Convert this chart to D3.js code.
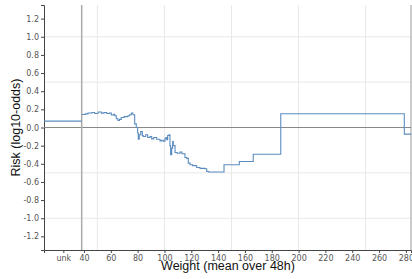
<!DOCTYPE html>
<html>
<head>
<meta charset="utf-8">
<script src="https://cdn.jsdelivr.net/npm/d3@7"></script>
<style>
  body { margin: 0; background: #fff; }
  .tick text { font-family: "DejaVu Sans", sans-serif; font-size: 8px; fill: #555; }
  .axis-title { font-family: "Liberation Sans", Arial, sans-serif; font-size: 12.5px; fill: #111; }
</style>
</head>
<body>
<svg id="chart"></svg>
<script>
// weight values (mean over 48h) where the risk step changes
const weights = [38.3, 41, 43, 46, 48, 50.5, 53, 55, 57, 59, 60.4, 62, 62.9, 64.1, 65.4, 66.5, 67.8, 70,
  72.8, 74, 75.3, 76.5, 77.8, 79, 80, 80.5, 81.2, 82.3, 83.5, 84.2, 86, 87.5, 89.2, 90.5, 92, 94.2,
  96.7, 98, 99.2, 100.4, 101.2, 101.7, 102.4, 103.4, 104.1, 104.6, 105.4, 106.1, 106.6, 107.9, 109.5,
  111.6, 113, 115.3, 116.6, 117.8, 119.1, 121, 124, 126.5, 130.2, 131.5, 133, 144.4, 155.8, 166.2,
  186.7, 278.8, 284];
// risk in log10-odds, one per weight
const risks = [0.143, 0.15, 0.16, 0.166, 0.155, 0.17, 0.158, 0.165, 0.155, 0.16, 0.137, 0.145, 0.13,
  0.096, 0.077, 0.09, 0.11, 0.12, 0.13, 0.14, 0.16, 0.14, 0.04, 0.0, -0.06, -0.128, -0.08, -0.045,
  -0.09, -0.1, -0.08, -0.11, -0.1, -0.125, -0.11, -0.13, -0.147, -0.14, -0.15, -0.12, -0.11, -0.135,
  -0.088, -0.08, -0.2, -0.3, -0.227, -0.155, -0.2, -0.276, -0.283, -0.27, -0.29, -0.33, -0.34, -0.393,
  -0.41, -0.42, -0.44, -0.45, -0.455, -0.485, -0.49, -0.41, -0.375, -0.294, 0.151, -0.073, -0.073];
// risk for unknown weight
const unkRisk = 0.07;

const xTickValues = [40, 60, 80, 100, 120, 140, 160, 180, 200, 220, 240, 260, 280];
const yTickValues = [-1.2, -1.0, -0.8, -0.6, -0.4, -0.2, 0.0, 0.2, 0.4, 0.6, 0.8, 1.0, 1.2];
const xGrid = [50, 100, 150, 200, 250];
const yGrid = [-1.0, -0.5, 0.5, 1.0];

class StepPlot {
  constructor(_config, _data) {
    this.config = {
      parentElement: _config.parentElement,
      containerWidth: _config.containerWidth || 412,
      containerHeight: _config.containerHeight || 279,
      margin: _config.margin || {top: 5, right: 1, bottom: 29, left: 44}
    };
    this.data = _data;
    this.initVis();
  }

  initVis() {
    let vis = this;
    vis.width = vis.config.containerWidth - vis.config.margin.left - vis.config.margin.right;
    vis.height = vis.config.containerHeight - vis.config.margin.top - vis.config.margin.bottom;

    // unk sits left of the separator on the same linear scale
    vis.unkPos = 24.6;
    vis.sepPos = 38.3;
    vis.xScale = d3.scaleLinear().domain([10.2, 283.8]).range([0, vis.width]);
    vis.yScale = d3.scaleLinear().domain([-1.35, 1.35]).range([vis.height, 0]);

    vis.svg = d3.select(vis.config.parentElement)
      .attr('width', vis.config.containerWidth)
      .attr('height', vis.config.containerHeight);

    vis.chart = vis.svg.append('g')
      .attr('transform', `translate(${vis.config.margin.left},${vis.config.margin.top})`);

    // gridlines
    vis.chart.selectAll('.vgrid').data(xGrid).join('line')
      .attr('x1', d => vis.xScale(d)).attr('x2', d => vis.xScale(d))
      .attr('y1', 0).attr('y2', vis.height)
      .attr('stroke', '#e8e8e8').attr('stroke-width', 1);
    vis.chart.selectAll('.hgrid').data(yGrid).join('line')
      .attr('x1', 0).attr('x2', vis.width)
      .attr('y1', d => vis.yScale(d)).attr('y2', d => vis.yScale(d))
      .attr('stroke', '#e8e8e8').attr('stroke-width', 1);

    // right frame edge
    vis.chart.append('line')
      .attr('x1', vis.width).attr('x2', vis.width)
      .attr('y1', 0).attr('y2', vis.height)
      .attr('stroke', '#999');

    vis.xAxis = d3.axisBottom(vis.xScale)
      .tickValues([vis.unkPos].concat(xTickValues))
      .tickFormat(d => d === vis.unkPos ? 'unk' : d)
      .tickSize(3)
      .tickPadding(2);
    vis.yAxis = d3.axisLeft(vis.yScale)
      .tickValues(yTickValues)
      .tickFormat(d => d.toFixed(1))
      .tickSize(3)
      .tickPadding(2);

    vis.xAxisG = vis.chart.append('g')
      .attr('class', 'axis x-axis')
      .attr('transform', `translate(0,${vis.height})`);
    vis.yAxisG = vis.chart.append('g')
      .attr('class', 'axis y-axis');

    // axis titles
    vis.chart.append('text')
      .attr('class', 'axis-title')
      .attr('x', 184)
      .attr('y', vis.height + 20)
      .style('text-anchor', 'middle')
      .text('Weight (mean over 48h)');
    vis.chart.append('text')
      .attr('class', 'axis-title')
      .attr('transform', `translate(-24,${vis.height / 2}) rotate(-90)`)
      .style('text-anchor', 'middle')
      .text('Risk (log10-odds)');

    vis.renderVis();
  }

  renderVis() {
    let vis = this;

    // zero line and unk separator
    vis.chart.append('line')
      .attr('x1', 0).attr('x2', vis.width)
      .attr('y1', vis.yScale(0)).attr('y2', vis.yScale(0))
      .attr('stroke', '#888').attr('stroke-width', 1);
    vis.chart.append('line')
      .attr('x1', vis.xScale(vis.sepPos)).attr('x2', vis.xScale(vis.sepPos))
      .attr('y1', 0).attr('y2', vis.height)
      .attr('stroke', '#aaa').attr('stroke-width', 1.5);

    const line = d3.line()
      .x(d => vis.xScale(d.w))
      .y(d => vis.yScale(d.r))
      .curve(d3.curveStepAfter);

    vis.chart.append('path')
      .datum(vis.data)
      .attr('d', line)
      .attr('fill', 'none')
      .attr('stroke', '#5b8cc0')
      .attr('stroke-width', 1.1);

    vis.chart.append('path')
      .datum([{w: 10.2, r: unkRisk}, {w: vis.sepPos, r: unkRisk}])
      .attr('d', line)
      .attr('fill', 'none')
      .attr('stroke', '#5b8cc0')
      .attr('stroke-width', 1.1);

    vis.xAxisG.call(vis.xAxis);
    vis.yAxisG.call(vis.yAxis);
    vis.svg.selectAll('.domain').attr('stroke', '#444');
    vis.svg.selectAll('.tick line').attr('stroke', '#444');
  }
}

const data = weights.map((w, i) => ({w: w, r: risks[i]}));
new StepPlot({parentElement: '#chart'}, data);
</script>
</body>
</html>
